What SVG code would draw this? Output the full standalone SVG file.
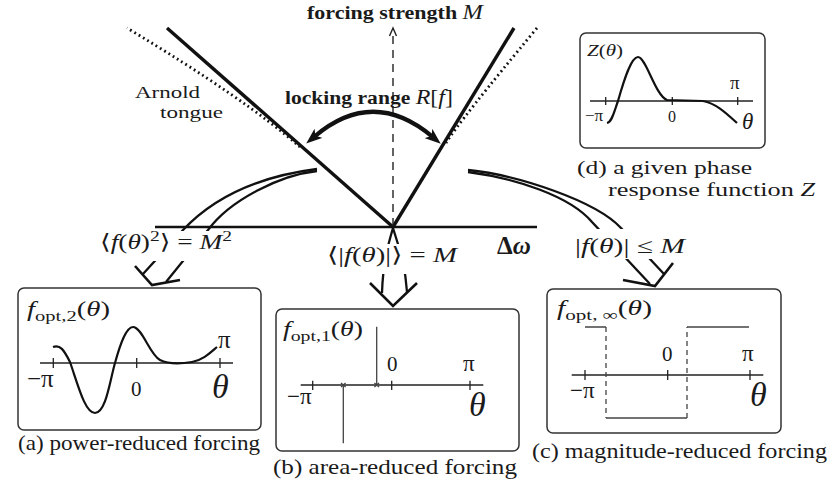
<svg xmlns="http://www.w3.org/2000/svg" width="831" height="497" viewBox="0 0 831 497">
<style>
.t{font-family:"Liberation Serif","DejaVu Serif",serif;fill:#1a1a1a}
.i{font-style:italic}
.b{font-weight:bold}
.box{fill:#fff;stroke:#333;stroke-width:1.5}
.ax{stroke:#222;stroke-width:1.6;fill:none}
.tk{stroke:#222;stroke-width:1.3;fill:none}
.cv{fill:none;stroke:#111;stroke-width:2.2}
.thin{fill:none;stroke:#444;stroke-width:1.3}
.dsh{fill:none;stroke:#444;stroke-width:1.3;stroke-dasharray:5 4}
.sh{fill:none;stroke:#111;stroke-width:2.3}
.hd{fill:none;stroke:#111;stroke-width:2.6;stroke-linejoin:miter}
.dot{fill:none;stroke:#111;stroke-width:2.8;stroke-dasharray:1.8 3.2}
.mask{fill:#fff}
</style>
<defs>
<marker id="big" viewBox="0 0 16 12" refX="5" refY="6" markerWidth="16" markerHeight="12" markerUnits="userSpaceOnUse" orient="auto-start-reverse">
<path d="M0,0 L16,6 L0,12 L4,6 Z" fill="#111"/>
</marker>
</defs>

<g id="tongue">
<line x1="155" y1="227" x2="537" y2="227" stroke="#111" stroke-width="2.6"/>
<path class="dot" d="M300,147 Q245.7,99.2 127,28"/>
<path class="dot" d="M446,143 Q459,121.6 537,28"/>
<line x1="167" y1="28" x2="393" y2="227" stroke="#111" stroke-width="3.4"/>
<line x1="393" y1="227" x2="514" y2="28" stroke="#111" stroke-width="3.4"/>
<line x1="393" y1="226" x2="393" y2="33" stroke="#222" stroke-width="1.4" stroke-dasharray="8 6"/>
<path d="M389.5,36 L393,28 L396.5,36" fill="none" stroke="#222" stroke-width="1.4"/>
<path d="M314.6,136.5 Q373,87 432.3,136.6" fill="none" stroke="#111" stroke-width="4.2" marker-start="url(#big)" marker-end="url(#big)"/>
<text class="t b" x="307" y="19" font-size="18" textLength="176" lengthAdjust="spacingAndGlyphs">forcing strength <tspan class="i" font-weight="normal" font-size="20">M</tspan></text>
<text class="t b" x="285" y="104" font-size="18" textLength="168" lengthAdjust="spacingAndGlyphs">locking range <tspan class="i" font-weight="normal" font-size="20">R</tspan><tspan font-weight="normal" font-size="20">[</tspan><tspan class="i" font-weight="normal" font-size="20">f</tspan><tspan font-weight="normal" font-size="20">]</tspan></text>
<text class="t" x="135" y="98" font-size="17.5" textLength="65" lengthAdjust="spacingAndGlyphs">Arnold</text>
<text class="t" x="160" y="118" font-size="17.5" textLength="63" lengthAdjust="spacingAndGlyphs">tongue</text>
<text class="t b" x="497" y="254" font-size="25">Δ<tspan class="i">ω</tspan></text>
</g>

<g id="connectors">
<path class="sh" d="M317,169 Q230,180 183,230 L143,274"/>
<path class="sh" d="M317,171 C280,175 230,200 208,230 L166,282"/>
<path class="hd" d="M135,266 L152,285 L180,280"/>
<path class="sh" d="M393,228 C388,245 383,262 382,293"/>
<path class="sh" d="M393,228 C398,245 405,262 407,292"/>
<path class="hd" d="M370,283 L393,306 L417,283"/>
<path class="sh" d="M468,170 C518,175 596,201 621,228 L664,274"/>
<path class="sh" d="M468,172 C515,178 570,196 592,222 L650,284"/>
<path class="hd" d="M623,280 L655,286 L673,263"/>
</g>

<g id="formula-a">
<rect class="mask" x="99" y="231" width="136" height="30"/>
<text class="t" x="100" y="249" font-size="21" textLength="132" lengthAdjust="spacingAndGlyphs">⟨<tspan class="i">f</tspan>(<tspan class="i">θ</tspan>)<tspan font-size="15" dy="-8">2</tspan><tspan dy="8">⟩ = </tspan><tspan class="i">M</tspan><tspan font-size="15" dy="-8">2</tspan></text>
</g>
<g id="formula-b">
<rect class="mask" x="324" y="244" width="136" height="30"/>
<text class="t" x="327" y="262" font-size="21" textLength="130" lengthAdjust="spacingAndGlyphs">⟨|<tspan class="i">f</tspan>(<tspan class="i">θ</tspan>)|⟩ = <tspan class="i">M</tspan></text>
</g>
<g id="formula-c">
<rect class="mask" x="572" y="229" width="117" height="30"/>
<text class="t" x="575" y="253" font-size="21" textLength="110" lengthAdjust="spacingAndGlyphs">|<tspan class="i">f</tspan>(<tspan class="i">θ</tspan>)| ≤ <tspan class="i">M</tspan></text>
</g>

<g id="panel-d">
<rect class="box" x="580" y="33" width="185" height="115" rx="6"/>
<text class="t" x="587" y="56" font-size="17" textLength="36" lengthAdjust="spacingAndGlyphs"><tspan class="i">Z</tspan>(<tspan class="i">θ</tspan>)</text>
<line class="ax" x1="590" y1="101" x2="753" y2="101"/>
<path class="tk" d="M605.7,97 V105 M672.3,97 V105 M737.7,97 V105"/>
<text class="t" x="585" y="121" font-size="17">−π</text>
<text class="t" x="668" y="122" font-size="16">0</text>
<text class="t" x="730" y="89" font-size="19">π</text>
<text class="t i" x="742" y="129" font-size="23">θ</text>
<path class="cv" stroke-width="1.8" d="M607,123 C612,122 614,112 618,101 C624,80 631,57 638,57 C646,57 655,95 667,100 L703,101 C715,103 725,112 737,123"/>
<text class="t" x="577" y="174" font-size="19" textLength="175" lengthAdjust="spacingAndGlyphs">(d) a given phase</text>
<text class="t" x="608" y="196" font-size="19" textLength="207" lengthAdjust="spacingAndGlyphs">response function <tspan class="i">Z</tspan></text>
</g>

<g id="panel-a">
<rect class="box" x="18" y="288" width="243" height="142" rx="6"/>
<text class="t" x="27" y="316" font-size="21" textLength="83" lengthAdjust="spacingAndGlyphs"><tspan class="i">f</tspan><tspan font-size="15" dy="5">opt,2</tspan><tspan dy="-5">(</tspan><tspan class="i">θ</tspan>)</text>
<line class="ax" x1="40" y1="363" x2="233" y2="363"/>
<path class="tk" d="M53.3,358 V368 M136.7,358 V368 M220,358 V368"/>
<text class="t" x="27" y="387" font-size="25">−π</text>
<text class="t" x="131" y="396" font-size="21">0</text>
<text class="t" x="218" y="348" font-size="25">π</text>
<text class="t i" x="212" y="398" font-size="34">θ</text>
<path class="cv" d="M53,347 C60,344 64,350 70,362 C78,385 85,413 95,413 C106,413 110,380 115,363 C120,345 126,327 133,327 C142,327 150,355 160,360 C168,364 180,364 192,362 C203,360 210,353 217,347"/>
<text class="t" x="18" y="450" font-size="21" textLength="242" lengthAdjust="spacingAndGlyphs">(a) power-reduced forcing</text>
</g>

<g id="panel-b">
<rect class="box" x="276" y="309" width="243" height="142" rx="6"/>
<text class="t" x="283" y="336" font-size="21" textLength="80" lengthAdjust="spacingAndGlyphs"><tspan class="i">f</tspan><tspan font-size="15" dy="5">opt,1</tspan><tspan dy="-5">(</tspan><tspan class="i">θ</tspan>)</text>
<line class="ax" x1="300.7" y1="385" x2="483.3" y2="385"/>
<path class="tk" d="M312.7,380.7 V390 M391.7,380.7 V390 M470,380.7 V390"/>
<path class="thin" d="M376.7,326.7 V385 M343.3,385 V443.3"/>
<path class="thin" stroke-width="1" d="M341,383 L345.6,387 M345.6,383 L341,387 M374.4,383 L379,387 M379,383 L374.4,387"/>
<text class="t" x="287" y="404" font-size="23">−π</text>
<text class="t" x="387" y="371" font-size="21">0</text>
<text class="t" x="463" y="371" font-size="23">π</text>
<text class="t i" x="469" y="416" font-size="34">θ</text>
<text class="t" x="273" y="474" font-size="21" textLength="244" lengthAdjust="spacingAndGlyphs">(b) area-reduced forcing</text>
</g>

<g id="panel-c">
<rect class="box" x="547" y="289" width="234" height="144" rx="6"/>
<text class="t" x="557" y="315" font-size="21" textLength="95" lengthAdjust="spacingAndGlyphs"><tspan class="i">f</tspan><tspan font-size="15" dy="5">opt, ∞</tspan><tspan dy="-5">(</tspan><tspan class="i">θ</tspan>)</text>
<line class="ax" x1="571.7" y1="375" x2="763.3" y2="375"/>
<path class="tk" d="M585,370 V380 M667.7,370 V380 M750,370 V380"/>
<path class="thin" d="M585,327 H606 M606,418 H687 M687,327 H749"/>
<path class="dsh" d="M606,327 V418 M687,418 V327"/>
<text class="t" x="570" y="398" font-size="23">−π</text>
<text class="t" x="662" y="361" font-size="21">0</text>
<text class="t" x="742" y="361" font-size="23">π</text>
<text class="t i" x="750" y="406" font-size="34">θ</text>
<text class="t" x="532" y="458" font-size="21" textLength="295" lengthAdjust="spacingAndGlyphs">(c) magnitude-reduced forcing</text>
</g>
</svg>
